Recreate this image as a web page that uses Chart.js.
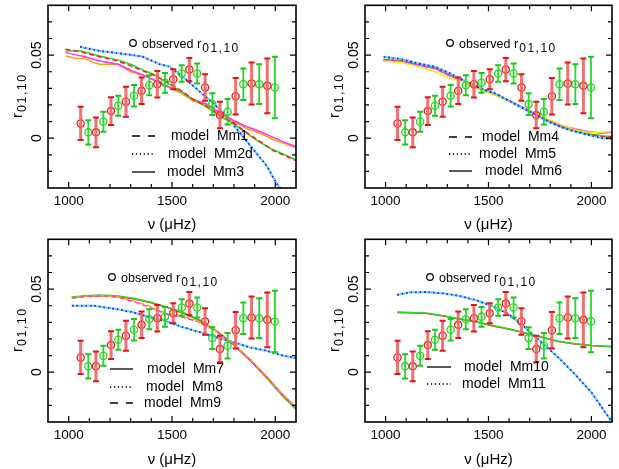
<!DOCTYPE html>
<html>
<head>
<meta charset="utf-8">
<script src="https://cdn.jsdelivr.net/npm/chart.js@4.4.1/dist/chart.umd.min.js"></script>
<style>
  html, body { margin: 0; padding: 0; background: #fff; }
  #wrap { position: relative; width: 619px; height: 469px; overflow: hidden; }
  canvas { position: absolute; }
</style>
</head>
<body>
<div id="wrap">
  <canvas id="p1" width="309" height="234" style="left:0;top:0"></canvas>
  <canvas id="p2" width="310" height="234" style="left:309px;top:0"></canvas>
  <canvas id="p3" width="309" height="235" style="left:0;top:234px"></canvas>
  <canvas id="p4" width="310" height="235" style="left:309px;top:234px"></canvas>
</div>
<script>
const FONT = '"Liberation Sans", Arial, Helvetica, sans-serif';
Chart.defaults.font.family = FONT;
Chart.defaults.color = '#000';

const xTickLabels = [1000, 1500, 2000];
const yTickLabels = [0, 0.05];

// observed r01/r10 (even index = r01 red, odd = r10 green)
const obsFreq  = [1058, 1095, 1132, 1168, 1205, 1240, 1277, 1316, 1353, 1390, 1429, 1466, 1506,
                  1547, 1584, 1622, 1660, 1695, 1732, 1769, 1808, 1845, 1885, 1922, 1961, 1998];
const obsRatio = [0.0089, 0.0035, 0.0035, 0.0099, 0.0163, 0.0195, 0.0219, 0.0255, 0.0285, 0.0319, 0.0325, 0.0333, 0.0355,
                  0.0389, 0.0413, 0.0389, 0.0305, 0.0205, 0.0139, 0.0159, 0.0253, 0.0325, 0.0329, 0.0325, 0.0315, 0.0305];
const obsErr   = [0.0100, 0.0073, 0.0090, 0.0060, 0.0083, 0.0060, 0.0090, 0.0065, 0.0080, 0.0060, 0.0080, 0.0060, 0.0060,
                  0.0050, 0.0070, 0.0060, 0.0080, 0.0065, 0.0080, 0.0077, 0.0110, 0.0095, 0.0127, 0.0120, 0.0165, 0.0185];

// panel 1 models
const mm1Freq  = [985, 1060, 1150, 1240, 1300, 1360, 1410, 1475, 1540, 1600, 1670, 1730, 1800, 1860, 1925, 1990, 2055, 2100];
const mm1Red   = [0.0535, 0.052, 0.049, 0.0465, 0.0435, 0.0405, 0.038, 0.034, 0.029, 0.0235, 0.019, 0.014, 0.009, 0.0035, -0.002, -0.0075, -0.011, -0.0135];
const mm1Green = [0.0525, 0.0525, 0.0495, 0.047, 0.0445, 0.041, 0.0385, 0.0335, 0.0285, 0.0235, 0.0185, 0.0135, 0.0085, 0.003, -0.0025, -0.007, -0.0105, -0.013];
const mm2dFreq = [1055, 1150, 1250, 1310, 1360, 1440, 1490, 1510, 1570, 1635, 1700, 1765, 1830, 1895, 1960, 2005, 2045];
const mm2dBlue = [0.055, 0.0525, 0.051, 0.050, 0.049, 0.0445, 0.043, 0.041, 0.035, 0.028, 0.021, 0.013, 0.003, -0.007, -0.017, -0.027, -0.034];
const mm3Freq    = [985, 1040, 1080, 1120, 1150, 1240, 1300, 1380, 1440, 1475, 1540, 1600, 1670, 1730, 1800, 1860, 1925, 1990, 2055, 2100];
const mm3Magenta = [0.0515, 0.050, 0.049, 0.0475, 0.0465, 0.0445, 0.041, 0.037, 0.0335, 0.0315, 0.0285, 0.0235, 0.0205, 0.0155, 0.0105, 0.007, 0.004, 0.0005, -0.003, -0.005];
const mm3Orange  = [0.0495, 0.048, 0.048, 0.0455, 0.0445, 0.0445, 0.040, 0.037, 0.033, 0.031, 0.0275, 0.0225, 0.020, 0.015, 0.010, 0.006, 0.003, -0.0008, -0.0037, -0.0058];

// panel 2 models
const mm46Freq   = [990, 1080, 1160, 1240, 1305, 1385, 1460, 1530, 1600, 1660, 1725, 1790, 1855, 1920, 1985, 2050, 2100];
const mm4Red     = [0.047, 0.0465, 0.044, 0.042, 0.038, 0.034, 0.030, 0.027, 0.0225, 0.0185, 0.0145, 0.0105, 0.007, 0.0045, 0.0025, 0.001, 0.0008];
const mm4Green   = [0.0475, 0.0465, 0.0445, 0.0425, 0.0385, 0.034, 0.0295, 0.0265, 0.0225, 0.0185, 0.0145, 0.0105, 0.007, 0.0045, 0.0025, 0.0015, 0.001];
const mm5Blue    = [0.049, 0.0475, 0.045, 0.043, 0.0395, 0.0345, 0.030, 0.027, 0.0225, 0.0185, 0.0145, 0.010, 0.0065, 0.004, 0.002, 0.0, -0.0003];
const mm6Magenta = [0.0465, 0.046, 0.044, 0.042, 0.038, 0.034, 0.0295, 0.0265, 0.0225, 0.019, 0.015, 0.011, 0.0075, 0.0055, 0.004, 0.003, 0.0035];
const mm6Yellow  = [0.0465, 0.0455, 0.043, 0.040, 0.0365, 0.0335, 0.029, 0.026, 0.022, 0.0185, 0.015, 0.0115, 0.008, 0.005, 0.0035, 0.0035, 0.004];

// panel 3 models
const mm79Freq   = [1015, 1087, 1152, 1233, 1313, 1394, 1474, 1555, 1636, 1716, 1797, 1878, 1958, 2039, 2100];
const mm7Green   = [0.0453, 0.046, 0.0465, 0.046, 0.0445, 0.0423, 0.0393, 0.0359, 0.0313, 0.0249, 0.0169, 0.0073, -0.0031, -0.0147, -0.0225];
const mm7Red     = [0.045, 0.0458, 0.046, 0.0455, 0.0442, 0.042, 0.039, 0.0355, 0.031, 0.0246, 0.0166, 0.007, -0.0034, -0.0148, -0.0222];
const mm9Magenta = [0.0445, 0.0455, 0.0458, 0.0452, 0.0425, 0.039, 0.035, 0.033, 0.030, 0.0245, 0.0168, 0.0075, -0.0028, -0.014, -0.021];
const mm9Orange  = [0.0447, 0.0458, 0.046, 0.0455, 0.043, 0.0395, 0.0355, 0.0335, 0.0305, 0.0248, 0.017, 0.0078, -0.0025, -0.0138, -0.0208];
const mm8Freq    = [1015, 1120, 1233, 1313, 1394, 1474, 1555, 1636, 1716, 1797, 1878, 1958, 2039, 2100];
const mm8Blue    = [0.040, 0.040, 0.038, 0.036, 0.033, 0.0305, 0.027, 0.024, 0.021, 0.018, 0.0149, 0.0129, 0.0099, 0.0085];

// panel 4 models
const mm10Freq  = [1056, 1193, 1274, 1355, 1435, 1516, 1597, 1677, 1758, 1839, 1919, 2000, 2100];
const mm10Red   = [0.036, 0.0355, 0.034, 0.032, 0.0305, 0.028, 0.026, 0.0235, 0.021, 0.0185, 0.017, 0.016, 0.0153];
const mm10Green = [0.0362, 0.0356, 0.0342, 0.0322, 0.0307, 0.0282, 0.0262, 0.0237, 0.0211, 0.0186, 0.0171, 0.0161, 0.0154];
const mm11Freq  = [1056, 1113, 1193, 1274, 1355, 1435, 1516, 1597, 1677, 1758, 1839, 1919, 2000, 2100];
const mm11Blue  = [0.0465, 0.048, 0.0483, 0.0475, 0.046, 0.0435, 0.040, 0.035, 0.027, 0.0179, 0.0089, -0.0011, -0.0122, -0.030];

const RED = '#ff1c1c', GREEN = '#22dd22', MAGENTA = '#ff30ff', ORANGE = '#ffa000',
      YELLOW = '#f4f000', BLUE = '#2030ff', CYAN = '#40dcff';
const DASH = [5, 3], DOT = [2, 2.5], LEG_DASH = [8, 8], LEG_DOT = [1.3, 2.6];

function pts(xs, ys) { return xs.map((x, i) => ({ x: x, y: ys[i] })); }

function curve(xs, ys, color, dash, offset) {
  const dotted = dash === DOT;
  return {
    data: pts(xs, ys), showLine: true, pointRadius: 0, tension: 0,
    borderColor: color, borderWidth: dotted ? 2 : 1.5,
    borderDash: dash || [], borderDashOffset: offset || 0
  };
}

function observed(red) {
  const idx = obsFreq.map((f, i) => i).filter(i => (i % 2 === 0) === red);
  return {
    data: idx.map(i => ({ x: obsFreq[i], y: obsRatio[i] })),
    pointRadius: 3.6, pointBorderWidth: 1.3, pointStyle: 'circle',
    pointBackgroundColor: 'rgba(0,0,0,0)', pointBorderColor: red ? '#f01818' : '#22d822'
  };
}

function sub(ctx, main, subText, x, y, mainSize, subSize) {
  ctx.font = mainSize + 'px ' + FONT;
  ctx.fillText(main, x, y);
  const w = ctx.measureText(main).width;
  ctx.font = subSize + 'px ' + FONT;
  ctx.letterSpacing = '1.5px';
  ctx.fillText(subText, x + w + 1, y + 4);
  ctx.letterSpacing = '0px';
}

const decor = {
  id: 'decor',
  afterDatasetsDraw(chart) {
    const { ctx, chartArea: a, scales: { x, y } } = chart;
    ctx.save();
    ctx.beginPath(); ctx.rect(a.left, a.top, a.right - a.left, a.bottom - a.top); ctx.clip();
    obsFreq.forEach((f, i) => {
      const px = x.getPixelForValue(f);
      const top = y.getPixelForValue(obsRatio[i] + obsErr[i]);
      const bot = y.getPixelForValue(obsRatio[i] - obsErr[i]);
      const red = i % 2 === 0;
      ctx.strokeStyle = red ? 'rgba(240,96,96,0.9)' : '#2ad82a';
      ctx.lineWidth = red ? 3 : 1.8;
      ctx.beginPath(); ctx.moveTo(px, top); ctx.lineTo(px, bot); ctx.stroke();
      ctx.strokeStyle = red ? '#e01414' : '#18c818';
      ctx.lineWidth = 2;
      ctx.beginPath();
      ctx.moveTo(px - 3, top); ctx.lineTo(px + 3, top);
      ctx.moveTo(px - 3, bot); ctx.lineTo(px + 3, bot);
      ctx.stroke();
    });
    ctx.restore();
  },
  afterDraw(chart, args, o) {
    const { ctx, chartArea: a, scales: { x, y } } = chart;
    ctx.save();
    // frame + inward ticks
    ctx.strokeStyle = '#000';
    ctx.lineWidth = 1.6;
    ctx.strokeRect(a.left, a.top, a.right - a.left, a.bottom - a.top);
    ctx.lineWidth = 1.2;
    ctx.beginPath();
    x.ticks.forEach(t => {
      const px = x.getPixelForValue(t.value);
      if (px <= a.left + 1 || px >= a.right - 1) return;
      const len = xTickLabels.includes(t.value) ? 6 : 4;
      ctx.moveTo(px, a.bottom); ctx.lineTo(px, a.bottom - len);
      ctx.moveTo(px, a.top); ctx.lineTo(px, a.top + len);
    });
    y.ticks.forEach(t => {
      const py = y.getPixelForValue(t.value);
      if (py <= a.top + 1 || py >= a.bottom - 1) return;
      const len = yTickLabels.some(v => Math.abs(v - t.value) < 1e-9) ? 6 : 4;
      ctx.moveTo(a.left, py); ctx.lineTo(a.left + len, py);
      ctx.moveTo(a.right, py); ctx.lineTo(a.right - len, py);
    });
    ctx.stroke();

    // rotated y tick labels
    ctx.fillStyle = '#000';
    ctx.font = '14px ' + FONT;
    ctx.textAlign = 'center';
    ctx.textBaseline = 'alphabetic';
    yTickLabels.forEach(v => {
      ctx.save();
      ctx.translate(a.left - 7, y.getPixelForValue(v));
      ctx.rotate(-Math.PI / 2);
      ctx.fillText(String(v), 0, 0);
      ctx.restore();
    });

    // y title r_{01,10}
    ctx.save();
    ctx.translate(a.left - 26, 118);
    ctx.rotate(-Math.PI / 2);
    ctx.textAlign = 'left';
    sub(ctx, 'r', '01,10', 0, 0, 15, 12.5);
    ctx.restore();

    // legend: observed
    ctx.textAlign = 'left';
    ctx.lineWidth = 1.2;
    ctx.beginPath(); ctx.arc(o.obs[0], o.obs[1], 3.3, 0, Math.PI * 2); ctx.stroke();
    ctx.font = '12.5px ' + FONT;
    ctx.fillText('observed', o.obs[0] + 9, o.obs[1] + 5);
    const w = ctx.measureText('observed ').width;
    sub(ctx, 'r', '01,10', o.obs[0] + 9 + w, o.obs[1] + 5, 13, 12);

    // legend: models
    o.rows.forEach(r => {
      ctx.setLineDash(r.dash);
      ctx.lineWidth = 1.3;
      ctx.beginPath(); ctx.moveTo(o.sx[0], r.y); ctx.lineTo(o.sx[1], r.y); ctx.stroke();
      ctx.setLineDash([]);
      ctx.font = '14px ' + FONT;
      ctx.textBaseline = 'middle';
      ctx.fillText('model  ' + r.name, r.tx, r.y);
      ctx.textBaseline = 'alphabetic';
    });
    ctx.restore();
  }
};

function makePanel(id, plotLeft, plotRight, lines, legend) {
  const canvas = document.getElementById(id);
  const W = canvas.width, H = canvas.height;
  const datasets = [observed(true), observed(false)].concat(lines.slice().reverse());
  return new Chart(canvas, {
    type: 'scatter',
    data: { datasets: datasets },
    options: {
      responsive: false,
      animation: false,
      events: [],
      layout: { padding: { top: 5, right: W - plotRight, left: 0, bottom: 0 } },
      plugins: { legend: { display: false }, tooltip: { enabled: false }, decor: legend },
      scales: {
        x: {
          type: 'linear', min: 900, max: 2100,
          grid: { display: false, drawTicks: false },
          border: { display: false },
          ticks: {
            stepSize: 100, autoSkip: false, maxRotation: 0, padding: 5,
            color: '#000', font: { size: 13.5 },
            callback: v => xTickLabels.includes(v) ? String(v) : ''
          },
          title: { display: true, text: 'ν (μHz)', color: '#000', font: { size: 15 }, padding: { top: 0, bottom: 0 } },
          afterFit: s => { s.height = H - 188; }
        },
        y: {
          type: 'linear', min: -0.03, max: 0.08,
          grid: { display: false, drawTicks: false },
          border: { display: false },
          ticks: { display: false, stepSize: 0.01 },
          afterFit: s => { s.width = plotLeft; }
        }
      }
    },
    plugins: [decor]
  });
}

// lines listed bottom-most first
makePanel('p1', 48, 296, [
  curve(mm2dFreq, mm2dBlue, BLUE, DOT),
  curve(mm2dFreq, mm2dBlue, CYAN, DOT, 2.25),
  curve(mm3Freq, mm3Orange, ORANGE),
  curve(mm3Freq, mm3Magenta, MAGENTA),
  curve(mm1Freq, mm1Green, GREEN),
  curve(mm1Freq, mm1Red, RED, DASH)
], {
  obs: [133, 43], sx: [132, 155],
  rows: [
    { y: 136, dash: LEG_DASH, name: 'Mm1', tx: 171 },
    { y: 154, dash: LEG_DOT, name: 'Mm2d', tx: 168 },
    { y: 172, dash: [], name: 'Mm3', tx: 167 }
  ]
});

makePanel('p2', 56, 303, [
  curve(mm46Freq, mm4Green, GREEN),
  curve(mm46Freq, mm4Red, RED, DASH),
  curve(mm46Freq, mm6Magenta, MAGENTA),
  curve(mm46Freq, mm6Yellow, YELLOW),
  curve(mm46Freq, mm5Blue, BLUE, DOT),
  curve(mm46Freq, mm5Blue, CYAN, DOT, 2.25)
], {
  obs: [141, 43], sx: [140, 163],
  rows: [
    { y: 137, dash: LEG_DASH, name: 'Mm4', tx: 173 },
    { y: 154, dash: LEG_DOT, name: 'Mm5', tx: 170 },
    { y: 171, dash: [], name: 'Mm6', tx: 176 }
  ]
});

makePanel('p3', 48, 296, [
  curve(mm8Freq, mm8Blue, BLUE, DOT),
  curve(mm8Freq, mm8Blue, CYAN, DOT, 2.25),
  curve(mm79Freq, mm7Red, RED),
  curve(mm79Freq, mm7Green, GREEN),
  curve(mm79Freq, mm9Magenta, MAGENTA, DASH),
  curve(mm79Freq, mm9Orange, ORANGE, DASH, 4)
], {
  obs: [112, 43], sx: [110, 133],
  rows: [
    { y: 135, dash: [], name: 'Mm7', tx: 147 },
    { y: 153, dash: LEG_DOT, name: 'Mm8', tx: 146 },
    { y: 169, dash: LEG_DASH, name: 'Mm9', tx: 144 }
  ]
});

makePanel('p4', 56, 303, [
  curve(mm11Freq, mm11Blue, BLUE, DOT),
  curve(mm11Freq, mm11Blue, CYAN, DOT, 2.25),
  curve(mm10Freq, mm10Red, RED),
  curve(mm10Freq, mm10Green, GREEN)
], {
  obs: [121, 43], sx: [118, 142],
  rows: [
    { y: 133, dash: [], name: 'Mm10', tx: 155 },
    { y: 150, dash: LEG_DOT, name: 'Mm11', tx: 153 }
  ]
});
</script>
</body>
</html>
